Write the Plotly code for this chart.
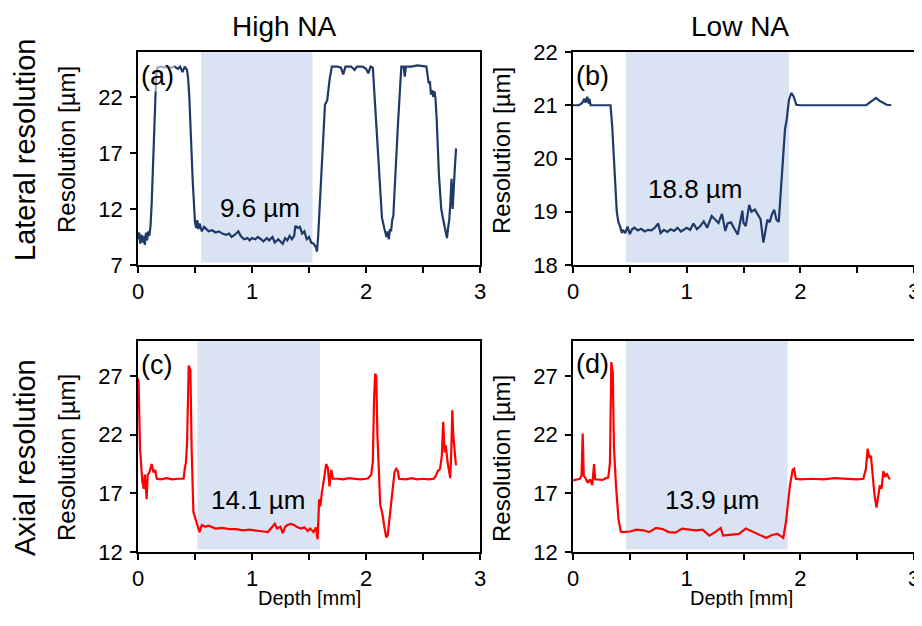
import plotly.graph_objects as go

# ---------------- data ----------------
# (a) High NA, lateral resolution
a_x = [0.00, 0.01, 0.02, 0.03, 0.04, 0.05, 0.06, 0.07, 0.08, 0.09, 0.10, 0.11, 0.12, 0.13, 0.14, 0.15,
       0.16, 0.17, 0.20, 0.23, 0.26, 0.29, 0.32, 0.35, 0.37, 0.39, 0.41, 0.43, 0.44, 0.45, 0.46, 0.47,
       0.48, 0.49, 0.50, 0.51, 0.52, 0.53, 0.54, 0.56, 0.58, 0.60, 0.62, 0.65, 0.68, 0.71, 0.74, 0.77,
       0.80, 0.82, 0.85, 0.88, 0.90, 0.93, 0.96, 0.98, 1.00, 1.03, 1.05, 1.08, 1.10, 1.13, 1.15, 1.18,
       1.20, 1.23, 1.25, 1.27, 1.29, 1.31, 1.33, 1.35, 1.37, 1.38, 1.40, 1.42, 1.44, 1.46, 1.48, 1.50,
       1.52, 1.54, 1.56, 1.57, 1.58, 1.59, 1.60, 1.61, 1.62, 1.63, 1.64, 1.66, 1.68, 1.70, 1.75, 1.78,
       1.80, 1.82, 1.87, 1.90, 1.92, 1.97, 2.00, 2.02, 2.04, 2.06, 2.08, 2.10, 2.12, 2.14, 2.16, 2.18,
       2.19, 2.20, 2.21, 2.22, 2.23, 2.24, 2.25, 2.26, 2.28, 2.30, 2.31, 2.33, 2.34, 2.35, 2.40, 2.45,
       2.50, 2.53, 2.55, 2.56, 2.57, 2.58, 2.59, 2.60, 2.61, 2.62, 2.64, 2.66, 2.68, 2.70, 2.71, 2.72,
       2.73, 2.74, 2.75, 2.76, 2.77, 2.78, 2.79]
a_y = [9.3, 9.9, 8.9, 9.7, 9.0, 9.6, 8.8, 9.9, 9.2, 10.0, 9.6, 10.5, 12.5, 15.5, 19.0, 22.0,
       24.0, 24.6, 24.7, 24.6, 24.7, 24.6, 24.7, 24.5, 24.7, 24.2, 24.7, 24.4, 23.6, 22.0, 20.0, 17.0,
       14.5, 12.5, 10.8, 10.3, 11.0, 10.2, 10.7, 10.0, 10.4, 10.2, 10.0, 10.1, 9.9, 10.0, 9.8, 9.7,
       9.8, 9.5, 9.7, 10.0, 9.6, 9.3, 9.4, 9.2, 9.4, 9.3, 9.5, 9.3, 9.1, 9.4, 9.2, 9.5,
       9.0, 9.3, 9.1, 8.9, 9.4, 9.2, 9.6, 9.3, 9.6, 10.5, 10.3, 10.4, 9.8, 10.0, 9.3, 9.5,
       9.0, 8.9, 8.6, 8.2, 9.5, 11.5, 13.5, 15.0, 17.5, 19.5, 21.3, 21.7, 23.5, 24.7, 24.7, 24.6,
       24.0, 24.7, 24.7, 24.4, 24.7, 24.7, 24.5, 24.1, 24.7, 24.6, 21.0, 17.5, 14.0, 11.2, 10.3, 9.5,
       10.0, 9.3, 10.2, 10.0, 11.0, 11.4, 13.5, 16.0, 19.5, 23.0, 24.7, 24.7, 23.8, 24.7, 24.7, 24.8,
       24.7, 24.7, 23.2, 23.4, 22.2, 22.6, 22.0, 22.5, 21.8, 20.0, 15.0, 12.0, 10.9, 9.8, 9.4, 10.3,
       11.0, 12.5, 14.7, 12.0, 14.8, 15.8, 17.4]

# (b) Low NA, lateral resolution
b_x = [0.00, 0.05, 0.08, 0.10, 0.11, 0.125, 0.14, 0.145, 0.155, 0.20, 0.25, 0.30, 0.33, 0.345, 0.355,
       0.37, 0.385, 0.40, 0.415, 0.43, 0.44, 0.46, 0.48, 0.50, 0.52, 0.54, 0.57, 0.60, 0.63, 0.66, 0.69,
       0.72, 0.75, 0.77, 0.80, 0.83, 0.86, 0.89, 0.92, 0.95, 0.98, 1.00, 1.03, 1.06, 1.09, 1.12, 1.15,
       1.18, 1.22, 1.25, 1.28, 1.31, 1.34, 1.36, 1.39, 1.42, 1.45, 1.47, 1.49, 1.50, 1.52, 1.55, 1.57,
       1.60, 1.63, 1.65, 1.675, 1.69, 1.71, 1.73, 1.75, 1.77, 1.79, 1.81, 1.835, 1.85, 1.865, 1.88, 1.90,
       1.92, 1.94, 1.965, 2.00, 2.20, 2.40, 2.58, 2.63, 2.665, 2.70, 2.73, 2.76, 2.80]
b_y = [21.00, 21.00, 21.04, 21.12, 21.05, 21.16, 21.03, 21.12, 21.00, 21.00, 21.00, 21.00, 21.00, 20.6, 20.2,
       19.5, 19.0, 18.8, 18.72, 18.6, 18.66, 18.6, 18.72, 18.58, 18.67, 18.7, 18.65, 18.68, 18.63, 18.66, 18.65,
       18.7, 18.78, 18.6, 18.66, 18.62, 18.67, 18.64, 18.7, 18.63, 18.68, 18.7, 18.66, 18.78, 18.67, 18.73, 18.82,
       18.7, 18.92, 18.85, 18.79, 18.96, 18.64, 18.78, 18.8, 18.68, 18.57, 18.8, 19.02, 18.79, 18.73, 19.13, 19.0,
       19.04, 18.92, 18.86, 18.42, 18.6, 18.85, 18.8, 18.95, 19.04, 18.85, 18.81, 19.6, 20.1, 20.55, 20.73, 21.1,
       21.23, 21.17, 21.01, 21.0, 21.0, 21.0, 21.0, 21.08, 21.14, 21.08, 21.05, 21.01, 21.0]

# (c) High NA, axial resolution
c_x = [0.00, 0.005, 0.018, 0.038, 0.05, 0.06, 0.076, 0.085, 0.10, 0.12, 0.135, 0.15, 0.165, 0.20, 0.25,
       0.30, 0.35, 0.40, 0.41, 0.42, 0.43, 0.445, 0.46, 0.47, 0.486, 0.50, 0.52, 0.54, 0.56, 0.59, 0.62,
       0.68, 0.74, 0.80, 0.86, 0.92, 0.98, 1.04, 1.10, 1.14, 1.17, 1.20, 1.22, 1.25, 1.27, 1.29, 1.31,
       1.34, 1.37, 1.40, 1.43, 1.46, 1.49, 1.51, 1.54, 1.56, 1.575, 1.589, 1.60, 1.613, 1.636, 1.65, 1.665,
       1.68, 1.695, 1.71, 1.75, 1.80, 1.85, 1.90, 1.95, 2.00, 2.02, 2.046, 2.06, 2.07, 2.08, 2.09, 2.10,
       2.125, 2.145, 2.16, 2.177, 2.19, 2.21, 2.233, 2.25, 2.265, 2.28, 2.29, 2.35, 2.40, 2.45, 2.50, 2.55,
       2.593, 2.61, 2.63, 2.65, 2.665, 2.677, 2.69, 2.70, 2.715, 2.725, 2.739, 2.748, 2.757, 2.766, 2.778, 2.789]
c_y = [26.8, 26.5, 20.8, 18.0, 17.4, 18.6, 16.5, 18.6, 18.8, 19.5, 18.8, 19.0, 18.25, 18.2, 18.3,
       18.2, 18.25, 18.25, 19.1, 19.6, 21.2, 27.9, 27.5, 21.0, 15.4, 15.0, 14.3, 13.7, 14.3, 14.15, 14.25,
       14.0, 14.05, 13.95, 13.95, 13.85, 13.9, 13.8, 13.75, 13.7, 14.1, 14.4, 14.0, 14.15, 13.6, 14.15, 14.3,
       14.4, 14.3, 14.1, 14.0, 14.1, 13.8, 14.0, 13.7, 14.1, 13.1, 16.5, 15.9, 17.1, 18.5, 19.5, 19.2,
       17.6, 19.0, 18.25, 18.25, 18.2, 18.3, 18.25, 18.2, 18.25, 18.3, 18.6, 19.7, 24.8, 27.2, 27.0, 22.0,
       16.0, 15.2, 14.2, 13.25, 13.4, 15.3, 17.4, 18.8, 19.1, 18.9, 18.25, 18.2, 18.3, 18.2, 18.25, 18.2,
       18.25, 18.45, 18.9, 19.1, 20.2, 23.1, 20.5, 21.1, 19.7, 19.1, 18.3, 20.5, 24.1, 21.9, 20.6, 19.4]

# (d) Low NA, axial resolution
d_x = [0.00, 0.03, 0.06, 0.075, 0.085, 0.095, 0.11, 0.13, 0.15, 0.17, 0.185, 0.195, 0.22, 0.26, 0.29,
       0.31, 0.325, 0.337, 0.35, 0.36, 0.378, 0.40, 0.42, 0.44, 0.50, 0.56, 0.62, 0.67, 0.73, 0.79, 0.84,
       0.90, 0.96, 1.02, 1.08, 1.14, 1.20, 1.25, 1.30, 1.32, 1.37, 1.40, 1.46, 1.52, 1.58, 1.63, 1.70,
       1.75, 1.80, 1.85, 1.874, 1.895, 1.909, 1.932, 1.945, 1.96, 2.00, 2.10, 2.20, 2.30, 2.40, 2.50, 2.554,
       2.577, 2.592, 2.607, 2.621, 2.636, 2.653, 2.67, 2.685, 2.70, 2.715, 2.73, 2.745, 2.76, 2.775, 2.788]
d_y = [18.1, 18.2, 18.25, 18.5, 22.1, 18.5, 18.3, 17.9, 18.2, 17.7, 19.5, 18.2, 18.2, 18.15, 18.3,
       18.35, 19.6, 28.2, 27.3, 21.0, 17.7, 14.8, 13.75, 13.7, 13.75, 13.9, 13.85, 13.7, 14.05, 13.95, 13.7,
       13.65, 14.0, 13.95, 13.85, 13.9, 13.4, 13.7, 14.05, 13.4, 13.45, 13.45, 13.55, 14.0, 13.75, 13.55, 13.2,
       13.45, 13.55, 13.2, 14.6, 16.5, 17.7, 19.0, 19.1, 18.25, 18.2, 18.25, 18.2, 18.3, 18.25, 18.2, 18.25,
       19.1, 20.8, 20.1, 20.2, 18.5, 16.8, 15.8, 16.8, 17.7, 17.4, 18.9, 18.4, 18.7, 18.4, 18.2]

shade_x0 = [0.553, 0.466, 0.521, 0.466]
shade_x1 = [1.531, 1.900, 1.598, 1.888]
mean_labels = ["9.6 µm", "18.8 µm", "14.1 µm", "13.9 µm"]
panel_labels = ["(a)", "(b)", "(c)", "(d)"]
col_titles = ["High NA", "Low NA"]
row_titles = ["Lateral resolution", "Axial resolution"]
y_ranges = [[7, 26], [18, 22], [12, 30], [12, 30]]
y_ticks = [[7, 12, 17, 22], [18, 19, 20, 21, 22], [12, 17, 22, 27], [12, 17, 22, 27]]
x_ticks = [0, 1, 2, 3]

# ---------------- geometry (screen pixels of the 922x626 window) ----------------
OFF = 8            # default page body margin
W, H = 914, 600    # figure size so that the page does not scroll


def fx(px):
    return (px - OFF) / W


def fy(py):
    return (H - (py - OFF)) / H


FONT = "Arial, Liberation Sans, sans-serif"
NAVY = "#1F3A68"
RED = "#FF0000"
SHADE = "#DAE3F3"

xdoms = [[fx(138), fx(480)], [fx(573), fx(914)]]
ydoms = [[fy(265), fy(52)], [fy(552), fy(341)]]

fig = go.Figure()
series = [(a_x, a_y, NAVY), (b_x, b_y, NAVY), (c_x, c_y, RED), (d_x, d_y, RED)]
for i, (xs, ys, col) in enumerate(series):
    n = "" if i == 0 else str(i + 1)
    fig.add_trace(go.Scatter(x=xs, y=ys, mode="lines", line=dict(color=col, width=2.2),
                             xaxis="x" + n, yaxis="y" + n, showlegend=False, hoverinfo="skip"))

layout = dict(width=W, height=H, margin=dict(l=0, r=0, t=0, b=0, autoexpand=False),
              paper_bgcolor="white", plot_bgcolor="white",
              font=dict(family=FONT, size=22, color="black"), showlegend=False)
shapes = []
annotations = []
panel_label_pos = [(140, 76), (575, 76), (140, 365), (575, 364)]
for i in range(4):
    r, c = divmod(i, 2)
    n = "" if i == 0 else str(i + 1)
    axis_common = dict(showline=True, linecolor="black", linewidth=1.6, mirror=True,
                       ticks="outside", ticklen=6, tickwidth=1.5, tickcolor="black",
                       showgrid=False, zeroline=False, automargin=False,
                       ticklabeloverflow="allow",
                       tickfont=dict(family=FONT, size=22, color="black"))
    layout["xaxis" + n] = dict(axis_common, domain=xdoms[c], range=[0, 3], tickvals=x_ticks,
                               anchor="y" + n,
                               minor=dict(tickvals=[0.5, 1.5, 2.5], ticks="outside", ticklen=6,
                                          tickwidth=1.5, tickcolor="black"))
    layout["yaxis" + n] = dict(axis_common, domain=ydoms[r], range=y_ranges[i], tickvals=y_ticks[i],
                               anchor="x" + n, ticklabelstandoff=3)
    shapes.append(dict(type="rect", xref="x" + n, yref="y" + n + " domain",
                       x0=shade_x0[i], x1=shade_x1[i], y0=0.012, y1=1.0,
                       fillcolor=SHADE, line=dict(width=0), layer="below"))
    px, py = panel_label_pos[i]
    annotations.append(dict(text=panel_labels[i], xref="paper", yref="paper",
                            x=fx(px), y=fy(py), xanchor="left", yanchor="middle", showarrow=False,
                            font=dict(family=FONT, size=27, color="black"),
                            bgcolor="rgba(255,255,255,0.55)", borderpad=0))

# mean value labels
mean_pos = [(260, 208), (695, 189), (258, 500), (712, 500)]
for (px, py), t in zip(mean_pos, mean_labels):
    annotations.append(dict(text=t, xref="paper", yref="paper", x=fx(px), y=fy(py),
                            xanchor="center", yanchor="middle", showarrow=False,
                            font=dict(family=FONT, size=26, color="black")))
# column titles
for cx, t in zip([284, 740], col_titles):
    annotations.append(dict(text=t, xref="paper", yref="paper", x=fx(cx), y=fy(27),
                            xanchor="center", yanchor="middle", showarrow=False,
                            font=dict(family=FONT, size=28, color="black")))
# x axis titles
for cx in [309, 741]:
    annotations.append(dict(text="Depth [mm]", xref="paper", yref="paper", x=fx(cx),
                            y=fy(598), xanchor="center", yanchor="middle", showarrow=False,
                            font=dict(family=FONT, size=20, color="black")))
# y axis titles
row_centers = [150, 458]
for r, t in enumerate(row_titles):
    yc = fy(row_centers[r])
    annotations.append(dict(text=t, xref="paper", yref="paper", x=fx(25), y=yc, textangle=-90,
                            xanchor="center", yanchor="middle", showarrow=False,
                            font=dict(family=FONT, size=29, color="black")))
    for c, axl in enumerate([138, 573]):
        annotations.append(dict(text="Resolution [µm]", xref="paper", yref="paper", x=fx(axl - 72), y=yc,
                                textangle=-90, xanchor="center", yanchor="middle", showarrow=False,
                                font=dict(family=FONT, size=24, color="black")))

layout["shapes"] = shapes
layout["annotations"] = annotations
fig.update_layout(**layout)
fig.write_html("out.html")
